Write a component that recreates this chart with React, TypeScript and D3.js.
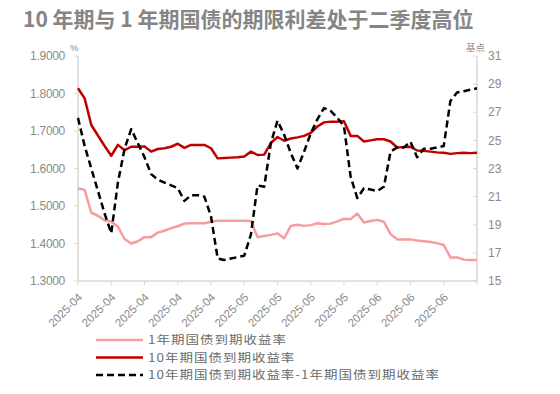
import React from 'react';
import * as d3 from 'd3';

// Trading days, 2025-04-01 .. 2025-06-30
const DATES: string[] = [
  '2025-04-01','2025-04-02','2025-04-03','2025-04-07','2025-04-08','2025-04-09','2025-04-10','2025-04-11',
  '2025-04-14','2025-04-15','2025-04-16','2025-04-17','2025-04-18','2025-04-21','2025-04-22','2025-04-23',
  '2025-04-24','2025-04-25','2025-04-27','2025-04-28','2025-04-29','2025-04-30',
  '2025-05-06','2025-05-07','2025-05-08','2025-05-09','2025-05-12','2025-05-13','2025-05-14','2025-05-15',
  '2025-05-16','2025-05-19','2025-05-20','2025-05-21','2025-05-22','2025-05-23','2025-05-26','2025-05-27',
  '2025-05-28','2025-05-29','2025-05-30',
  '2025-06-03','2025-06-04','2025-06-05','2025-06-06','2025-06-09','2025-06-10','2025-06-11','2025-06-12',
  '2025-06-13','2025-06-16','2025-06-17','2025-06-18','2025-06-19','2025-06-20','2025-06-23','2025-06-24',
  '2025-06-25','2025-06-26','2025-06-27','2025-06-30',
];

// 1-year CGB yield (%)
const Y1: number[] = [
  1.547, 1.543, 1.482, 1.474, 1.462, 1.458, 1.445, 1.412, 1.400, 1.406,
  1.417, 1.417, 1.429, 1.434, 1.441, 1.446, 1.453, 1.454, 1.454, 1.454,
  1.458, 1.461, 1.461, 1.461, 1.461, 1.461, 1.460, 1.417, 1.420, 1.423,
  1.427, 1.414, 1.447, 1.450, 1.447, 1.449, 1.454, 1.452, 1.453, 1.459,
  1.466, 1.465, 1.480, 1.456, 1.460, 1.463, 1.458, 1.425, 1.411, 1.411,
  1.411, 1.408, 1.406, 1.404, 1.401, 1.396, 1.363, 1.363, 1.357, 1.356,
  1.356,
];

// 10-year CGB yield (%)
const Y10: number[] = [
  1.814, 1.787, 1.716, 1.688, 1.660, 1.634, 1.663, 1.649, 1.658, 1.658,
  1.659, 1.645, 1.652, 1.654, 1.658, 1.666, 1.655, 1.663, 1.663, 1.663,
  1.654, 1.627, 1.628, 1.629, 1.630, 1.632, 1.645, 1.636, 1.637, 1.668,
  1.684, 1.674, 1.680, 1.683, 1.687, 1.695, 1.712, 1.723, 1.725, 1.725,
  1.726, 1.687, 1.687, 1.672, 1.675, 1.678, 1.678, 1.672, 1.656, 1.657,
  1.658, 1.648, 1.647, 1.645, 1.643, 1.642, 1.639, 1.641, 1.642, 1.641,
  1.642,
];

// 10Y - 1Y spread (bp)
const SPREAD: number[] = [
  26.6, 24.6, 23.0, 21.4, 19.8, 18.4, 22.0, 24.4, 25.8, 24.8,
  23.8, 22.6, 22.2, 22.0, 21.8, 21.6, 20.7, 21.1, 21.1, 21.0,
  19.6, 16.6, 16.5, 16.6, 16.7, 16.8, 18.3, 21.8, 21.7, 24.8,
  26.4, 25.4, 24.1, 23.0, 24.2, 25.5, 26.5, 27.3, 27.1, 26.6,
  26.0, 22.4, 20.9, 21.6, 21.5, 21.4, 21.7, 24.2, 24.5, 24.5,
  24.9, 23.8, 24.4, 24.4, 24.5, 24.6, 27.8, 28.4, 28.5, 28.6,
  28.7,
];

const LEFT_TICKS: number[] = [1.3, 1.4, 1.5, 1.6, 1.7, 1.8, 1.9];
const RIGHT_TICKS: number[] = [15, 17, 19, 21, 23, 25, 27, 29, 31];
const X_TICK_LABELS: string[] = [
  '2025-04','2025-04','2025-04','2025-04','2025-04',
  '2025-05','2025-05','2025-05','2025-05',
  '2025-06','2025-06','2025-06',
];

const SERIES_NAMES: string[] = [
  '1年期国债到期收益率',
  '10年期国债到期收益率',
  '10年期国债到期收益率-1年期国债到期收益率',
];

const TITLE = '10 年期与 1 年期国债的期限利差处于二季度高位';

export default function App() {
  const W = 560, H = 394;
  const left = 78, right = 477, top = 56, bottom = 281;
  const x = d3.scalePoint<string>().domain(DATES).range([left, right]).padding(0);
  const yL = d3.scaleLinear().domain([1.3, 1.9]).range([bottom, top]);
  const yR = d3.scaleLinear().domain([15, 31]).range([bottom, top]);

  const lineL = d3.line<number>().x((_, i) => x(DATES[i]) as number).y(d => yL(d));
  const lineR = d3.line<number>().x((_, i) => x(DATES[i]) as number).y(d => yR(d));

  const tickIdx = d3.range(0, DATES.length, 5);
  const axisCol = '#d9d9d9';
  const labelCol = '#8a8a8a';
  const font = "'Liberation Sans', Arial, 'Noto Sans CJK SC', sans-serif";
  const cjk = "'Noto Sans CJK SC', 'Liberation Sans', sans-serif";

  const colors = ['#f79b9b', '#c00000', '#000000'];

  return (
    <svg width={W} height={H} style={{ position: 'absolute', left: 0, top: 0, background: '#fff' }}>
      <rect x={0} y={0} width={W} height={H} fill="#fff" />
      <text x={23} y={27} fontFamily={cjk} fontWeight={700} fontSize={21} fill="#858585">{TITLE}</text>

      {/* axes */}
      <line x1={left} x2={left} y1={top} y2={bottom} stroke={axisCol} strokeWidth={1.5} />
      <line x1={right} x2={right} y1={top} y2={bottom} stroke={axisCol} strokeWidth={1.5} />
      <line x1={left} x2={right} y1={bottom} y2={bottom} stroke={axisCol} strokeWidth={1.5} />

      {LEFT_TICKS.map(t => (
        <g key={'l' + t}>
          <line x1={left - 4} x2={left} y1={yL(t)} y2={yL(t)} stroke={axisCol} strokeWidth={1} />
          <text x={65} y={yL(t)} dy="0.35em" textAnchor="end" fontFamily={font} fontSize={12} fill={labelCol} letterSpacing={-0.3}>
            {t.toFixed(4)}
          </text>
        </g>
      ))}
      {RIGHT_TICKS.map(t => (
        <g key={'r' + t}>
          <line x1={right - 4} x2={right} y1={yR(t)} y2={yR(t)} stroke={axisCol} strokeWidth={1} />
          <text x={488} y={yR(t)} dy="0.35em" fontFamily={font} fontSize={12} fill={labelCol}>{t}</text>
        </g>
      ))}
      <text x={70} y={51} fontFamily={font} fontSize={9.5} fill={labelCol}>%</text>
      <text x={466} y={51} fontFamily={cjk} fontSize={9.5} fill={labelCol}>基点</text>

      {tickIdx.map(i => (
        <line key={'xt' + i} x1={x(DATES[i])} x2={x(DATES[i])} y1={bottom} y2={bottom + 4} stroke={axisCol} strokeWidth={1} />
      ))}
      {X_TICK_LABELS.map((lab, k) => {
        const px = (x(DATES[k * 5]) as number) + 5;
        return (
          <text key={'xl' + k} transform={`translate(${px},298) rotate(-45)`} textAnchor="end"
            fontFamily={font} fontSize={11.5} fill={labelCol}>{lab}</text>
        );
      })}

      {/* lines */}
      <path d={lineL(Y1) || ''} fill="none" stroke={colors[0]} strokeWidth={2.5} strokeLinejoin="round" />
      <path d={lineL(Y10) || ''} fill="none" stroke={colors[1]} strokeWidth={2.5} strokeLinejoin="round" />
      <path d={lineR(SPREAD) || ''} fill="none" stroke={colors[2]} strokeWidth={2.5} strokeDasharray="7 4" strokeLinejoin="round" />

      {/* legend */}
      {SERIES_NAMES.map((name, i) => {
        const yy = 340 + i * 17.5;
        return (
          <g key={'lg' + i}>
            <line x1={96} x2={143} y1={yy} y2={yy} stroke={colors[i]} strokeWidth={2.5}
              strokeDasharray={i === 2 ? '7 4' : undefined} />
            <g transform={`translate(148,${yy}) scale(1,0.86)`}>
              <text x={0} y={0} dy="0.35em" fontFamily={cjk} fontSize={13.5} letterSpacing={1}
                fill="#6b6b6b">{name}</text>
            </g>
          </g>
        );
      })}
    </svg>
  );
}
